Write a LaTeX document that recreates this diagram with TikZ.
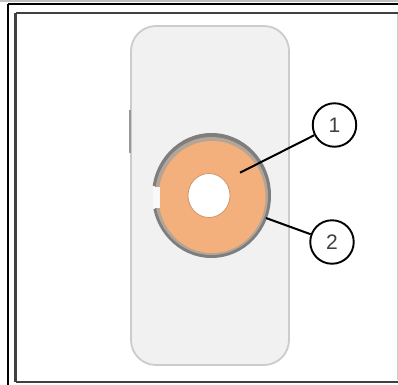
\documentclass[tikz,border=0pt]{standalone}
\usepackage{fontspec}
\setmainfont{Liberation Sans}
\definecolor{panelgrey}{HTML}{F1F1F1}
\definecolor{panelline}{HTML}{CCCCCC}
\definecolor{ringgrey}{HTML}{7E7E7E}
\definecolor{ringtan}{HTML}{B5A596}
\definecolor{padorange}{HTML}{F3AF7C}
\definecolor{numgrey}{HTML}{404040}
\tikzset{
  callout/.style={circle,draw=black,line width=1.9bp,fill=white,minimum size=43.5bp,inner sep=0pt,font=\fontsize{21bp}{21bp}\selectfont,text=numgrey},
  leader/.style={draw=black,line width=2bp},
  frameout/.style={draw=black,line width=1.6bp},
  framein/.style={draw=black!75,line width=2bp}
}
\begin{document}
\begin{tikzpicture}[x=1bp,y=-1bp]
\useasboundingbox (0,0) rectangle (398,385);
\fill[white] (0,0) rectangle (398,385);
\fill[black!25] (0,0) rectangle (398,1.5);
\draw[frameout] (8,3.7) -- (398,3.7);
\draw[frameout] (8,3.7) -- (8,385);
\draw[black!20,line width=1bp] (397,12) -- (397,380);
\draw[framein] (15.5,12.5) -- (398,12.5);
\draw[framein] (15.5,12.5) -- (15.5,381.5);
\draw[framein] (15.5,381.5) -- (398,381.5);
\draw[draw=panelline,fill=panelgrey,line width=1.8bp,rounded corners=25bp] (131,26) rectangle (289,365);
\draw[ringgrey!80,line width=2bp] (129.5,110) -- (129.5,153);
\fill[ringgrey] (211.5,195.5) ellipse (59.5 and 62.5);
\fill[ringtan] (211.5,196) ellipse (56.5 and 59);
\fill[padorange] (212,197) ellipse (53.5 and 56);
\fill[panelgrey] (150,186) rectangle (155,209);
\fill[white!60!panelgrey] (153,187) rectangle (160,208);
\fill[white] (209,195.5) ellipse (21 and 22);
\draw[black!15!padorange,line width=0.8bp] (209,195.5) ellipse (21 and 22);
\node[callout] (n1) at (334.5,125) {1};
\node[callout] (n2) at (332,242) {2};
\coordinate (a1) at (240,172.7);
\coordinate (a2) at (266,218);
\draw[leader] (a1) -- (n1);
\draw[leader] (a2) -- (n2);
\end{tikzpicture}
\end{document}
